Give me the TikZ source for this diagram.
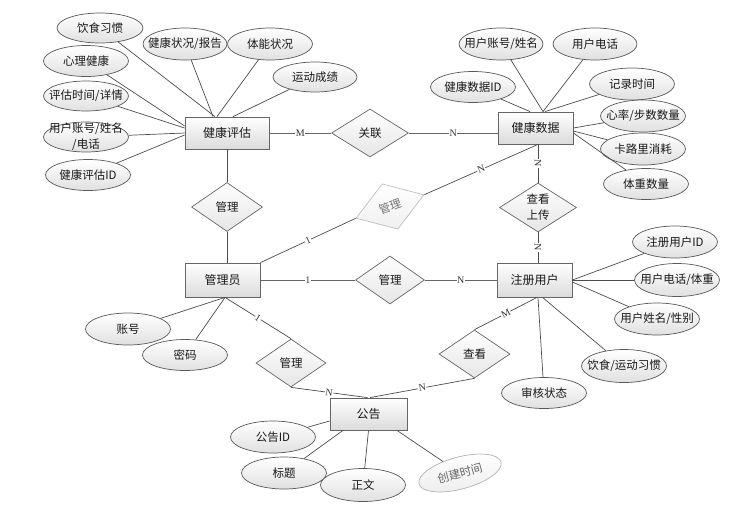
\documentclass[tikz,border=0pt]{standalone}
\usepackage{fontspec}
\setmainfont{Liberation Serif}
\newfontfamily\cjk{Noto Sans CJK SC}
\usetikzlibrary{shapes.geometric,shadows}
\begin{document}
\begin{tikzpicture}[x=1pt,y=-1pt,
 every node/.style={font=\cjk\fontsize{11.5}{16}\selectfont, text=black!90},
 ent/.style={rectangle, draw=black!60, line width=0.8pt, top color=white, bottom color=black!14, inner sep=0pt, minimum width=75pt, minimum height=33pt, font=\cjk\fontsize{12}{16}\selectfont, drop shadow={shadow xshift=1.2pt, shadow yshift=-1.2pt, opacity=0.25, fill=black}},
 attr/.style={ellipse, draw=black!65, line width=0.7pt, top color=white, bottom color=black!12, inner xsep=-12pt, inner ysep=-10pt, minimum width=85pt, minimum height=31pt},
 relshape/.style={diamond, draw=black!60, line width=0.7pt, top color=white, bottom color=black!10, inner sep=-5pt, minimum width=71pt, minimum height=48pt},
 ln/.style={draw=black!70, line width=0.7pt},
 rln/.style={draw=black!60, line width=0.9pt},
 lab/.style={font=\rmfamily\fontsize{10}{10}\selectfont, fill=white, inner sep=0.6pt, sloped, text=black!80}
]
\useasboundingbox (0,0) rectangle (744,515);

% entities
\node[ent, minimum width=84pt, minimum height=32pt] (hp) at (227,133) {健康评估};
\node[ent, minimum height=32pt] (hd) at (535.5,128) {健康数据};
\node[ent, minimum height=34pt] (adm) at (222.5,280) {管理员};
\node[ent, minimum height=34pt] (usr) at (534.5,280) {注册用户};
\node[ent, minimum width=77pt, minimum height=32pt] (gg) at (368.5,414) {公告};

% relationships
\node[relshape, minimum width=77pt] (rl) at (370,133) {关联};
\node[relshape, minimum height=49pt] (m1) at (227,207) {管理};
\node[relshape, rotate=19, draw=black!25, text=black!55, bottom color=black!6, minimum width=72pt] (m2) at (390,206.5) {管理};
\node[relshape, minimum width=77pt, minimum height=49pt, align=center] (cy) at (538,207.5) {查看\\上传};
\node[relshape, minimum width=69pt] (m3) at (390,280) {管理};
\node[relshape, minimum width=70pt] (m4) at (291,363) {管理};
\node[relshape] (ck) at (474.5,354) {查看};

% attributes of 健康评估
\node[attr, minimum width=86pt, minimum height=30pt] (a1) at (100,28) {饮食习惯};
\node[attr, minimum width=84pt, minimum height=32pt] (a2) at (185,44) {健康状况/报告};
\node[attr, minimum height=32pt] (a3) at (270,44) {体能状况};
\node[attr, minimum width=84pt, minimum height=30pt] (a4) at (315,77) {运动成绩};
\node[attr] (a5) at (86,61) {心理健康};
\node[attr, minimum height=30pt] (a6) at (86,96) {评估时间/详情};
\node[attr, minimum height=30pt, align=center] (a7) at (86,137) {用户账号/姓名\\/电话};
\node[attr] (a8) at (88,175) {健康评估ID};

% attributes of 健康数据
\node[attr, minimum width=84pt, minimum height=32pt] (b1) at (501,44) {用户账号/姓名};
\node[attr, minimum width=84pt, minimum height=32pt] (b2) at (595,44) {用户电话};
\node[attr] (b3) at (473,87) {健康数据ID};
\node[attr, minimum height=32pt] (b4) at (632,84) {记录时间};
\node[attr, minimum height=32pt] (b5) at (643,116) {心率/步数数量};
\node[attr, minimum height=32pt] (b6) at (643,149) {卡路里消耗};
\node[attr] (b7) at (646,184) {体重数量};

% attributes of 注册用户
\node[attr, minimum height=32pt] (c1) at (675,242) {注册用户ID};
\node[attr, minimum height=33pt] (c2) at (677,280) {用户电话/体重};
\node[attr, minimum height=32pt] (c3) at (657,319) {用户姓名/性别};
\node[attr, minimum height=33pt] (c4) at (624,366) {饮食/运动习惯};
\node[attr] (c5) at (544,393) {审核状态};

% attributes of 管理员
\node[attr, minimum height=32pt] (d1) at (128,329) {账号};
\node[attr] (d2) at (185,355) {密码};

% attributes of 公告
\node[attr, minimum height=32pt] (e1) at (273,437) {公告ID};
\node[attr, minimum height=32pt] (e2) at (284,473) {标题};
\node[attr, minimum height=33pt] (e3) at (363,485) {正文};
\node[attr, rotate=15, draw=black!30, text=black!60, bottom color=black!7, minimum height=32pt] (e4) at (460,473) {创建时间};

% attribute lines
\draw[ln] (a1) -- ([xshift=-12pt]hp.north);
\draw[ln] (a2) -- ([xshift=-14pt]hp.north);
\draw[ln] (a3) -- ([xshift=-10pt]hp.north);
\draw[ln] (a4) -- ([xshift=6pt]hp.north);
\draw[ln] (a5) -- ([yshift=7pt]hp.west);
\draw[ln] (a6) -- ([yshift=5pt]hp.west);
\draw[ln] (a7) -- (hp.west);
\draw[ln] (a8) -- ([yshift=-2pt]hp.west);

\draw[ln] (b1) -- ([xshift=7.5pt]hd.north);
\draw[ln] (b2) -- ([xshift=7.5pt]hd.north);
\draw[ln] (b3) -- ([xshift=-5.5pt]hd.north);
\draw[ln] (b4) -- ([xshift=9.5pt]hd.north);
\draw[ln] (b5) -- (hd.east);
\draw[ln] (b6) -- ([yshift=-3pt]hd.east);
\draw[ln] (b7) -- ([yshift=-5pt]hd.east);

\draw[ln] (c1) -- (usr.east);
\draw[ln] (c2) -- (usr.east);
\draw[ln] (c3) -- ([yshift=-2pt]usr.east);
\draw[ln] (c4) -- ([xshift=8pt]usr.south);
\draw[ln] (c5) -- ([xshift=3.5pt]usr.south);

\draw[ln] (d1) -- ([xshift=2.5pt]adm.south);
\draw[ln] (d2) -- ([xshift=2.5pt]adm.south);

\draw[ln] (e1) -- ([yshift=-7pt]gg.west);
\draw[ln] (e2) -- ([xshift=-25.5pt]gg.south);
\draw[ln] (e3) -- (gg.south);
\draw[ln] (e4) -- ([xshift=28.5pt]gg.south);

% relationship lines
\draw[rln] (hp.east) -- node[lab]{M} (rl.west);
\draw[rln] (rl.east) -- node[lab]{N} (rl.east -| hd.west);
\draw[ln] (hp.south) -- (m1.north);
\draw[ln] (m1.south) -- (m1.south |- adm.north);
\draw[rln] (adm.east) -- node[lab]{1} (m3.west);
\draw[rln] (m3.east) -- node[lab]{N} (usr.west);
\draw[ln] (adm.north east) -- node[lab]{1} (m2.west);
\draw[ln] (m2.east) -- node[lab]{N} (cy.north |- hd.south);
\draw[ln] (cy.north |- hd.south) -- node[lab]{N} (cy.north);
\draw[ln] (cy.south) -- node[lab]{N} (cy.south |- usr.north);
\draw[ln] ([xshift=2.5pt]usr.south) -- node[lab]{M} (ck.north);
\draw[ln] (ck.south) -- node[lab]{N} ([xshift=1.5pt]gg.north);
\draw[ln] (m4.south) -- node[lab]{N} ([xshift=-1pt]gg.north);
\draw[ln] ([xshift=2.5pt]adm.south) -- node[lab]{1} (m4.north);
\end{tikzpicture}
\end{document}
